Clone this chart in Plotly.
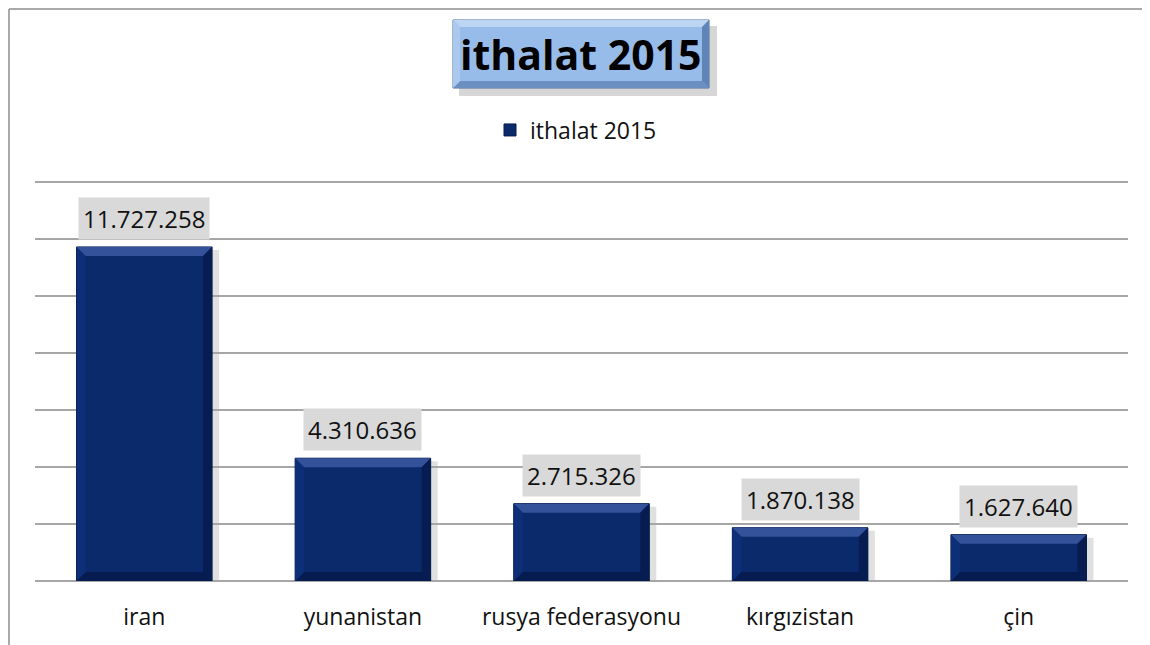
import plotly.graph_objects as go

categories = ["iran", "yunanistan", "rusya federasyonu", "kırgızistan", "çin"]
values = [11727258, 4310636, 2715326, 1870138, 1627640]
labels = ["11.727.258", "4.310.636", "2.715.326", "1.870.138", "1.627.640"]
series_name = "ithalat 2015"
title_text = "ithalat 2015"

FONT = "Open Sans"
BAR = "#0b2a6c"
W = 0.62

# page geometry (the browser adds an 8px body margin)
OFF = 8
FIG_W, FIG_H = 1150 - OFF, 645 - OFF
PLOT_L, PLOT_R, PLOT_T, PLOT_B = 35, 1128, 181, 581   # page pixels
L = PLOT_L - OFF
R = FIG_W - (PLOT_R - OFF)
T = PLOT_T - OFF
B = FIG_H - (PLOT_B - OFF)
PW, PH = FIG_W - L - R, FIG_H - T - B
YTOP = 14_000_000
YMAX = YTOP * 1.003

def px_x(p):
    return (p - PLOT_L) / PW

def px_y(p):
    return (PLOT_B - p) / PH

fig = go.Figure()
fig.add_trace(go.Bar(
    x=categories, y=values, name=series_name, width=W,
    marker=dict(color=BAR, line=dict(color="#061a48", width=1)),
    showlegend=True,
))

shapes = []
annotations = []
ypx = YMAX / PH      # data units per pixel
xpx = 5.0 / PW       # category units per pixel
for i, v in enumerate(values):
    x0, x1 = i - W / 2, i + W / 2
    bx = 9 * xpx
    by = 9 * ypx
    shapes.append(dict(type="rect", xref="x", yref="y", layer="below",
                       x0=x0 + 3 * xpx, x1=x1 + 7 * xpx, y0=-4 * ypx, y1=v - 3 * ypx,
                       fillcolor="rgba(0,0,0,0.12)", line=dict(width=0)))
    shapes.append(dict(type="path", xref="x", yref="y",
                       path=f"M {x0},{v} L {x1},{v} L {x1-bx},{v-by} L {x0+bx},{v-by} Z",
                       fillcolor="#33529a", line=dict(width=0)))
    shapes.append(dict(type="path", xref="x", yref="y",
                       path=f"M {x0},0 L {x1},0 L {x1-bx},{by} L {x0+bx},{by} Z",
                       fillcolor="#061c50", line=dict(width=0)))
    shapes.append(dict(type="path", xref="x", yref="y",
                       path=f"M {x0},{v} L {x0+bx},{v-by} L {x0+bx},{by} L {x0},0 Z",
                       fillcolor="#0d2f78", line=dict(width=0)))
    shapes.append(dict(type="path", xref="x", yref="y",
                       path=f"M {x1},{v} L {x1-bx},{v-by} L {x1-bx},{by} L {x1},0 Z",
                       fillcolor="#071d52", line=dict(width=0)))
    annotations.append(dict(
        x=categories[i], y=v, xref="x", yref="y", text=labels[i], showarrow=False,
        yanchor="bottom", yshift=7, bgcolor="#d9d9d9", borderpad=4, width=None,
        font=dict(family=FONT, size=24, color="#111111"),
    ))

# title box
tx0, tx1, ty0, ty1 = 453, 709, 20, 88
shapes.append(dict(type="rect", xref="paper", yref="paper",
                   x0=px_x(tx0 + 6), x1=px_x(tx1 + 8), y0=px_y(ty1 + 8), y1=px_y(ty0 + 6),
                   fillcolor="rgba(0,0,0,0.16)", line=dict(width=0)))
shapes.append(dict(type="rect", xref="paper", yref="paper",
                   x0=px_x(tx0), x1=px_x(tx1), y0=px_y(ty1), y1=px_y(ty0),
                   fillcolor="#98bce9", line=dict(color="#4a6a98", width=1)))
bv = 7
shapes.append(dict(type="path", xref="paper", yref="paper",
                   path=(f"M {px_x(tx0)},{px_y(ty0)} L {px_x(tx1)},{px_y(ty0)} "
                         f"L {px_x(tx1-bv)},{px_y(ty0+bv)} L {px_x(tx0+bv)},{px_y(ty0+bv)} Z"),
                   fillcolor="#bcd5f3", line=dict(width=0)))
shapes.append(dict(type="path", xref="paper", yref="paper",
                   path=(f"M {px_x(tx0)},{px_y(ty1)} L {px_x(tx1)},{px_y(ty1)} "
                         f"L {px_x(tx1-bv)},{px_y(ty1-bv)} L {px_x(tx0+bv)},{px_y(ty1-bv)} Z"),
                   fillcolor="#6a8fc0", line=dict(width=0)))
shapes.append(dict(type="path", xref="paper", yref="paper",
                   path=(f"M {px_x(tx1)},{px_y(ty0)} L {px_x(tx1)},{px_y(ty1)} "
                         f"L {px_x(tx1-bv)},{px_y(ty1-bv)} L {px_x(tx1-bv)},{px_y(ty0+bv)} Z"),
                   fillcolor="#5f84b6", line=dict(width=0)))
shapes.append(dict(type="path", xref="paper", yref="paper",
                   path=(f"M {px_x(tx0)},{px_y(ty0)} L {px_x(tx0)},{px_y(ty1)} "
                         f"L {px_x(tx0+bv)},{px_y(ty1-bv)} L {px_x(tx0+bv)},{px_y(ty0+bv)} Z"),
                   fillcolor="#abc9ef", line=dict(width=0)))
annotations.append(dict(
    x=px_x((tx0 + tx1) / 2), y=px_y((ty0 + ty1) / 2), xref="paper", yref="paper",
    text=f"<b>{title_text}</b>", showarrow=False, xanchor="center", yanchor="middle",
    font=dict(family=FONT, size=41, color="#000000"),
))

# outer chart border (left and top) at the figure's edge
BX, BY = OFF + 1, OFF + 1
shapes.append(dict(type="line", xref="paper", yref="paper",
                   x0=px_x(BX), x1=px_x(BX), y0=px_y(BY), y1=px_y(660),
                   line=dict(color="#8c8c8c", width=1.5)))
shapes.append(dict(type="line", xref="paper", yref="paper",
                   x0=px_x(BX), x1=px_x(1170), y0=px_y(BY), y1=px_y(BY),
                   line=dict(color="#8c8c8c", width=1.5)))

fig.update_layout(
    width=FIG_W, height=FIG_H,
    margin=dict(l=L, r=R, t=T, b=B),
    paper_bgcolor="white", plot_bgcolor="white",
    shapes=shapes, annotations=annotations,
    showlegend=True,
    legend=dict(orientation="h", x=px_x(576), xanchor="center", y=px_y(130), yanchor="middle",
                font=dict(family=FONT, size=23, color="#111111"), itemwidth=30),
    xaxis=dict(showgrid=False, showline=False, ticks="", zeroline=False,
               tickfont=dict(family=FONT, size=23, color="#111111"),
               ticklabelstandoff=20, range=[-0.5, 4.5]),
    yaxis=dict(range=[0, YMAX], dtick=2_000_000, showticklabels=False,
               gridcolor="#a6a6a6", gridwidth=1.5, zeroline=True,
               zerolinecolor="#a6a6a6", zerolinewidth=1.5, showline=False),
)

fig.write_html("out.html")
